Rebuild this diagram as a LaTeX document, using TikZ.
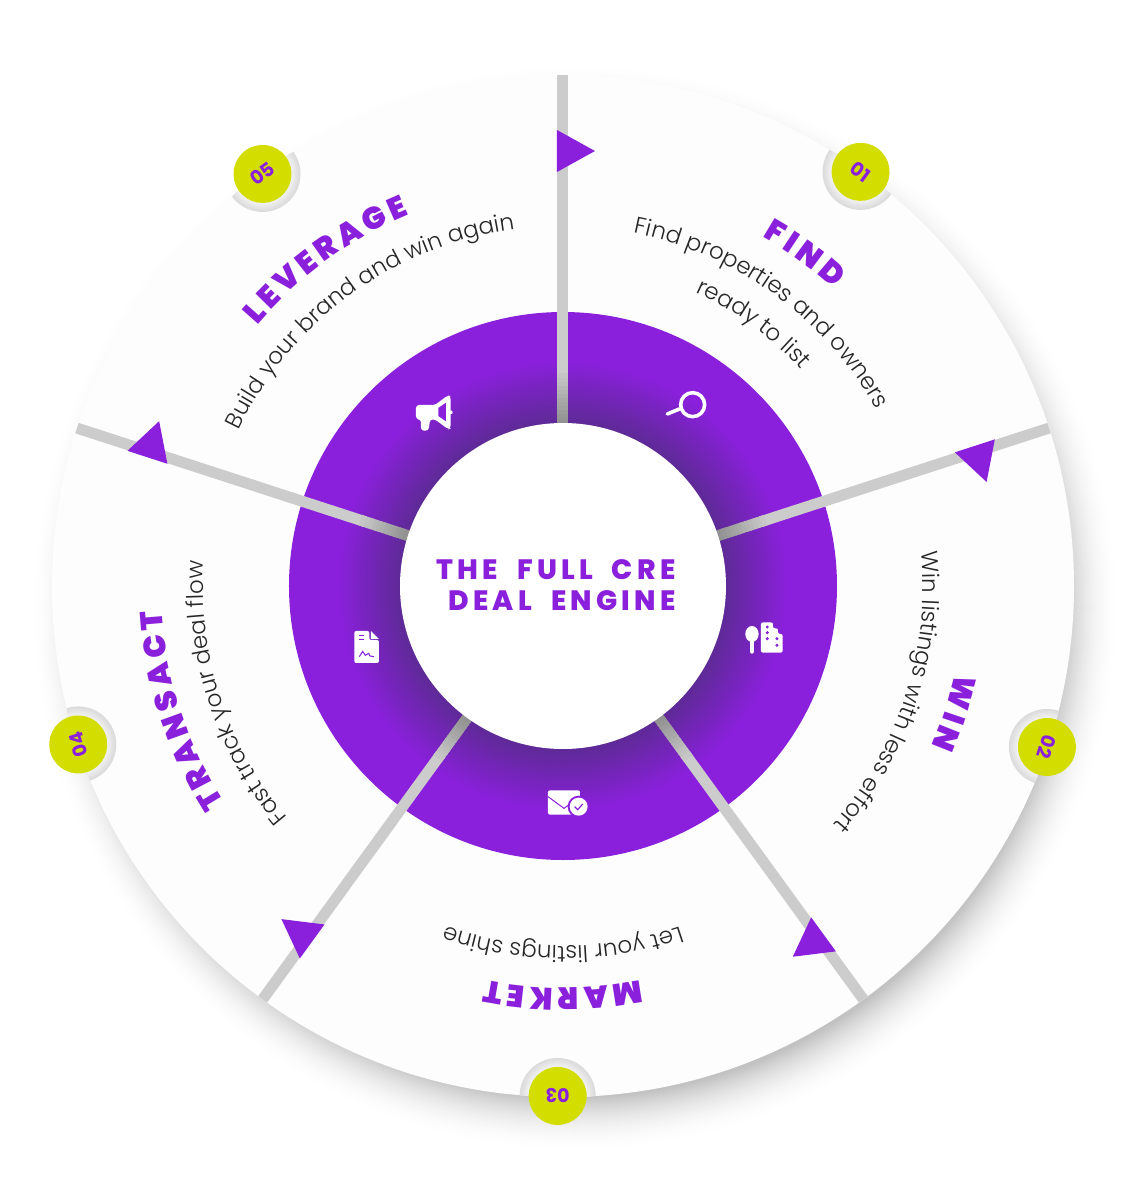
\documentclass[tikz,border=0pt]{standalone}
\usepackage{fontspec}
\usetikzlibrary{decorations.text}
\setmainfont{Poppins}
\newfontfamily\headfont{Poppins Black}
\newfontfamily\titlefont[LetterSpace=15,WordSpace=2]{Poppins ExtraBold}
\newfontfamily\bodyfont{Poppins Light}
\definecolor{enginepurple}{HTML}{8A20DC}
\definecolor{engineshade}{HTML}{5E2A96}
\definecolor{enginelime}{HTML}{D4DD00}
\definecolor{enginegrey}{HTML}{CCCCCC}
\definecolor{enginepaper}{HTML}{FEFDFE}
\begin{document}
\begin{tikzpicture}[x=1pt,y=1pt,
headtext/.style={decorate,decoration={text effects along path,text={#1},text align=center,
  text effects/.cd,text along path,
    characters={text=enginepurple,font=\fontsize{31}{31}\headfont,inner xsep=2.2pt},
    character widths={font=\fontsize{31}{31}\headfont,inner xsep=2.2pt}}},
desctext/.style={decorate,decoration={text along path,text align=center,text={|\fontsize{23}{23}\bodyfont\color{black!85}|#1}}},
badge/.style={circle,fill=enginelime,text=enginepurple,minimum size=58pt,inner sep=0pt,font=\fontsize{19}{19}\selectfont\bfseries},
flag/.style={fill=enginepurple},
icon/.style={fill=white},
iconcut/.style={fill=enginepurple}]
\useasboundingbox (-563,586) rectangle (562,-614);
% disc and ring
\foreach \p [evaluate=\p as \q using 24*(\p/56)^2] in {0,...,56}
  \fill[black!\q] (12,-22) circle (545-\p);
\fill[enginepaper] (0,0) circle (511);
\fill[enginepurple] (0,0) circle (274);
\foreach \p [evaluate=\p as \q using 100-100*\p/62] in {0,...,62}
  \fill[enginepurple!\q!engineshade] (0,0) circle (225-\p);
\foreach \a in {90,18,-54,-126,162}{
  \draw[enginegrey,line width=11pt] (\a:208) -- (\a:511);
  \foreach \p [evaluate=\p as \q using int(70+2.3*\p)] in {0,...,12}
    \draw[enginegrey!\q!black,line width=11pt] (\a:160+4*\p) -- (\a:165+4*\p);
}
\fill[white] (0,0) circle (163);
% flags on the spokes
\foreach \a in {0,-72,-144,-216,-288}
  \fill[flag,rotate=\a] (-6,456) -- (-6,414) -- (32,435) -- cycle;
% badges on the rim
\foreach \a in {54.3,-18.4,-90.6,-161.9,126.1}{
  \begin{scope}
  \clip (0,0) circle (511);
  \foreach \p [evaluate=\p as \q using int(14-\p)] in {0,...,9}{
    \fill[black!\q] (\a:510) circle (38-\p);
  }
  \end{scope}
}
\foreach \a/\num/\r in {54.3/01/-36,-18.4/02/-108,-90.6/03/180,-161.9/04/108,126.1/05/36}
  \node[badge,rotate=\r] (badge\num) at (\a:510) {\num};
% headings and descriptions
\path[headtext={FIND}] (104:402) arc[start angle=104,delta angle=-100,radius=402];
\path[desctext={Find properties and owners}] (104:360) arc[start angle=104,delta angle=-100,radius=360];
\path[desctext={ready to list}] (104:322) arc[start angle=104,delta angle=-100,radius=322];
\path[headtext={WIN}] (32:402) arc[start angle=32,delta angle=-100,radius=402];
\path[desctext={Win listings with less effort}] (32:360) arc[start angle=32,delta angle=-100,radius=360];
\path[headtext={MARKET}] (-40:402) arc[start angle=-40,delta angle=-100,radius=402];
\path[desctext={Let your listings shine}] (-40:360) arc[start angle=-40,delta angle=-100,radius=360];
\path[headtext={TRANSACT}] (248:402) arc[start angle=248,delta angle=-100,radius=402];
\path[desctext={Fast track your deal flow}] (248:360) arc[start angle=248,delta angle=-100,radius=360];
\path[headtext={LEVERAGE}] (176:402) arc[start angle=176,delta angle=-100,radius=402];
\path[desctext={Build your brand and win again}] (176:360) arc[start angle=176,delta angle=-100,radius=360];
\node[anchor=east,align=right,text=enginepurple,font=\fontsize{28}{31}\titlefont] (title) at (116,1) {THE FULL CRE\\DEAL ENGINE};
% icons, in the coordinates of a 3x crop
\begin{scope}[shift={(-243,206)},xscale=1/3,yscale=-1/3]
\draw[white,line width=3.6pt] (1118,74) circle (36);
\draw[white,line width=3.6pt,line cap=round] (1078,87) -- (1042,102);
\fill[icon,rounded corners=3pt] (288,75) -- (345,75) -- (385,45) -- (392,50) -- (392,145) -- (385,148) -- (345,118) -- (330,118) -- (326,152) -- (303,152) -- (303,118) -- (288,118) -- cycle;
\fill[icon] (392,97) circle (6);
\fill[iconcut] (355,84) -- (378,68) -- (378,124) -- (355,108) -- cycle;
\fill[icon,rounded corners=2pt] (103,753) -- (148,753) -- (148,780) -- (177,780) -- (177,849) -- (103,849) -- cycle;
\fill[icon] (153,753) -- (177,777) -- (153,777) -- cycle;
\draw[enginepurple,line width=1pt] (118,766) -- (132,766) (118,780) -- (132,780);
\draw[enginepurple,line width=1pt] (118,830) -- (128,814) -- (136,826) -- (146,820) -- (150,828) -- (162,830);
\draw[white,line width=4pt,line cap=round] (1296,770) -- (1296,815);
\fill[icon] (1296,762) ellipse (20 and 24);
\fill[icon,rounded corners=2pt] (1323,727) -- (1359,727) -- (1359,745) -- (1374,745) -- (1374,762) -- (1388,762) -- (1388,818) -- (1323,818) -- cycle;
\foreach \x/\y in {1342/741,1342/758,1342/776,1371/776,1371/796}
  \fill[iconcut] (\x,\y) circle (5);
\fill[icon,rounded corners=2pt] (684,1231) rectangle (780,1304);
\draw[enginepurple,line width=1pt] (684,1250) -- (732,1285) -- (780,1250);
\fill[iconcut] (776,1280) circle (33);
\fill[icon] (776,1280) circle (27);
\draw[enginepurple,line width=1.2pt] (764,1280) -- (773,1289) -- (788,1272);
\end{scope}
\end{tikzpicture}
\end{document}
